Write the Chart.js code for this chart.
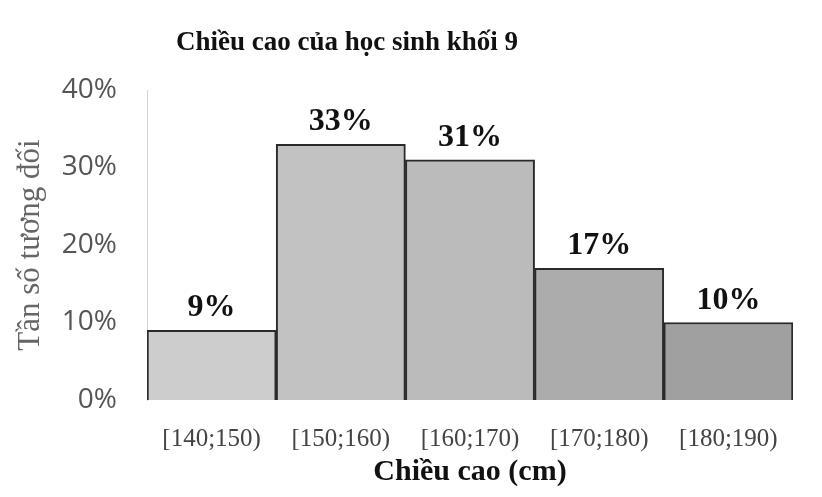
<!DOCTYPE html>
<html>
<head>
<meta charset="utf-8">
<script src="https://cdn.jsdelivr.net/npm/chart.js@4"></script>
<style>
  html, body { margin: 0; padding: 0; background: #fff; }
  #wrap { width: 822px; height: 497px; }
</style>
</head>
<body>
<div id="wrap"><canvas id="myChart"></canvas></div>
<script>
// data
var chartTitle = 'Chiều cao của học sinh khối 9';
var categories = ['[140;150)', '[150;160)', '[160;170)', '[170;180)', '[180;190)'];
var percents = [9, 33, 31, 17, 10];
var yTicks = [0, 10, 20, 30, 40];
var barColors = ['#cdcdcd', '#c2c2c2', '#bbbbbb', '#acacac', '#a0a0a0'];

// draws the % text above each bar and the title
var labelPlugin = {
    id: 'barLabels',
    afterDatasetsDraw: function(chart) {
        var ctx = chart.ctx;
        var meta = chart.getDatasetMeta(0);
        ctx.save();
        ctx.fillStyle = '#111';
        ctx.font = 'bold 32px "Liberation Serif"';
        ctx.textAlign = 'center';
        ctx.textBaseline = 'alphabetic';
        meta.data.forEach(function(bar, i) {
            ctx.fillText(percents[i] + '%', bar.x, bar.y - 14);
        });
        // title sits left of centre in the original
        ctx.font = 'bold 27px "Liberation Serif"';
        ctx.fillText(chartTitle, chart.chartArea.left + 200, 50);
        ctx.restore();
    }
};

var ctx = document.getElementById('myChart').getContext('2d');
var chart = new Chart(ctx, {
    type: 'bar',
    data: {
        labels: categories,
        datasets: [{
            data: percents,
            backgroundColor: barColors,
            borderColor: '#2a2a2a',
            borderWidth: 2,
            categoryPercentage: 1,
            barPercentage: 1
        }]
    },
    options: {
        responsive: true,
        maintainAspectRatio: false,
        animation: false,
        layout: { padding: { top: 90, right: 29, left: 8, bottom: 4 } },
        plugins: {
            legend: { display: false },
            tooltip: { enabled: false }
        },
        scales: {
            x: {
                afterFit: function(scale) { scale.height = 93; },
                grid: { display: false, drawTicks: false },
                border: { display: false },
                ticks: {
                    color: '#444',
                    padding: 24,
                    font: { family: '"Liberation Serif"', size: 25 }
                },
                title: {
                    display: true,
                    text: 'Chiều cao (cm)',
                    color: '#111',
                    font: { family: '"Liberation Serif"', size: 30, weight: 'bold' },
                    padding: { top: 0, bottom: 3 }
                }
            },
            y: {
                min: 0,
                max: 40,
                afterBuildTicks: function(scale) {
                    scale.ticks = yTicks.map(function(v) { return { value: v }; });
                },
                afterFit: function(scale) { scale.width = 139; },
                grid: { display: false, drawTicks: false },
                border: { display: true, color: '#d4d4d4', dash: [3, 3], width: 1 },
                ticks: {
                    color: '#555',
                    padding: 30,
                    font: { family: '"Open Sans"', size: 28 },
                    callback: function(v) { return v + '%'; }
                },
                title: {
                    display: true,
                    text: 'Tần số tương đối',
                    color: '#666',
                    font: { family: '"Liberation Serif"', size: 31 },
                    padding: { top: 4, bottom: 0 }
                }
            }
        }
    },
    plugins: [labelPlugin]
});
</script>
</body>
</html>
